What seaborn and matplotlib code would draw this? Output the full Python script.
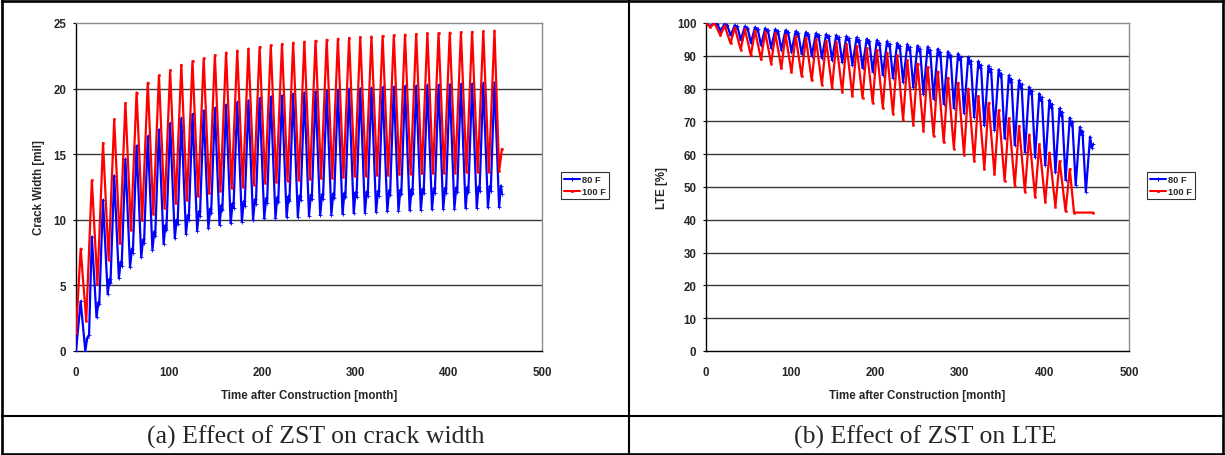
import numpy as np
import pandas as pd
import matplotlib
matplotlib.use("Agg")
import matplotlib.pyplot as plt
import seaborn as sns
from matplotlib.lines import Line2D

# ---------------- data ----------------
# months of the yearly extremes
PEAK_M = [5, 17, 29, 41, 53, 65, 77, 89, 101, 113, 125, 137, 149, 161, 173, 185, 197, 209, 221,
          233, 245, 257, 269, 281, 293, 305, 317, 329, 341, 353, 365, 377, 389, 401, 413, 425, 437, 449]
TROUGH_M = [10, 22, 34, 46, 58, 70, 82, 94, 106, 118, 130, 142, 154, 166, 178, 190, 202, 214, 226,
            238, 250, 262, 274, 286, 298, 310, 322, 334, 346, 358, 370, 382, 394, 406, 418, 430, 442, 454]
RED_TROUGH_M = [11, 23, 35, 47, 59, 71, 83, 95, 107, 119, 131, 143, 155, 167, 179, 191, 203, 215, 227,
                239, 251, 263, 275, 287, 299, 311, 323, 335, 347, 359, 371, 383, 395, 407, 419, 431, 443, 454]
BUMP_M = [12, 24, 36, 48, 60, 72, 84, 96, 108, 120, 132, 144, 156, 168, 180, 192, 204, 216, 228,
          240, 252, 264, 276, 288, 300, 312, 324, 336, 348, 360, 372, 384, 396, 408, 420, 432, 444, 456]
DIP_M = [14, 25, 37, 49, 61, 73, 85, 97, 109, 121, 133, 145, 157, 169, 181, 193, 205, 217, 229,
         241, 253, 265, 277, 289, 301, 313, 325, 337, 349, 361, 373, 385, 397, 409, 421, 433, 445, 457]
PEAK2_M = [13, 25, 37, 49, 61, 73, 85, 97, 109, 121, 133, 145, 157, 169, 181, 193, 205, 217, 229,
           241, 253, 265, 277, 289, 301, 313, 325, 337, 349, 361, 373, 385, 397, 409, 421, 433, 445, 457]

# (a) crack width [mil]
cw100_start = [0, 1.4]
cw100_end = [457, 15.4]
cw100_peak = [7.8, 13.0, 15.85, 17.65, 18.9, 19.7, 20.45, 21.0, 21.4, 21.8, 22.1, 22.3, 22.55, 22.75,
              22.9, 23.05, 23.17, 23.3, 23.4, 23.5, 23.58, 23.65, 23.73, 23.8, 23.86, 23.92, 23.97,
              24.02, 24.07, 24.12, 24.16, 24.2, 24.24, 24.27, 24.3, 24.33, 24.36, 24.42]
cw100_trough = [2.3, 5.1, 6.95, 8.2, 9.2, 9.95, 10.45, 10.87, 11.25, 11.5, 11.82, 12.02, 12.22, 12.4,
                12.52, 12.68, 12.8, 12.9, 12.98, 13.03, 13.1, 13.17, 13.22, 13.27, 13.32, 13.36, 13.4,
                13.44, 13.47, 13.5, 13.53, 13.56, 13.58, 13.6, 13.62, 13.64, 13.66, 13.7]

cw80_start = [0, 0.0]
cw80_peak = [3.8, 8.7, 11.5, 13.36, 14.63, 15.65, 16.36, 16.87, 17.35, 17.73, 18.06, 18.32, 18.52,
             18.75, 18.95, 19.08, 19.26, 19.38, 19.46, 19.59, 19.69, 19.77, 19.82, 19.87, 19.95, 20.0,
             20.05, 20.1, 20.13, 20.17, 20.2, 20.24, 20.28, 20.31, 20.34, 20.37, 20.4, 20.45]
cw80_trough = [0.0, 2.57, 4.34, 5.54, 6.38, 7.14, 7.72, 8.16, 8.59, 8.92, 9.17, 9.35, 9.6, 9.73, 9.86,
               10.0, 10.1, 10.15, 10.2, 10.25, 10.3, 10.35, 10.4, 10.44, 10.5, 10.55, 10.6, 10.64,
               10.68, 10.72, 10.75, 10.79, 10.82, 10.85, 10.88, 10.91, 10.94, 10.97]
cw80_bump = [1.0, 3.7, 5.5, 6.8, 7.8, 8.5, 9.1, 9.6, 10.0, 10.35, 10.65, 10.85, 11.1, 11.25, 11.4,
             11.55, 11.65, 11.72, 11.8, 11.85, 11.9, 11.95, 12.0, 12.05, 12.1, 12.15, 12.2, 12.24,
             12.28, 12.32, 12.36, 12.4, 12.43, 12.46, 12.5, 12.53, 12.56, 12.6]
cw80_dip = [1.2, 3.6, 5.2, 6.5, 7.5, 8.2, 8.8, 9.25, 9.65, 10.0, 10.3, 10.5, 10.75, 10.9, 11.05, 11.2,
            11.3, 11.37, 11.45, 11.5, 11.55, 11.6, 11.65, 11.7, 11.75, 11.8, 11.85, 11.89, 11.93,
            11.97, 12.01, 12.05, 12.08, 12.11, 12.15, 12.18, 12.21, 12.0]

# (b) LTE [%]
lte100_start = [0, 100.0]
lte100_trough = [98.7, 96.2, 93.8, 91.9, 90.1, 88.9, 87.6, 86.2, 85.0, 83.8, 82.5, 81.2, 80.2, 79.0,
                 77.8, 77.2, 75.7, 74.1, 72.3, 70.5, 68.9, 67.2, 65.6, 63.6, 61.7, 59.9, 57.9, 55.5,
                 53.9, 51.8, 50.4, 48.6, 46.9, 45.5, 44.0, 42.6]
lte100_peak = [100.0, 99.2, 98.6, 98.1, 97.7, 97.2, 96.8, 96.4, 96.0, 95.5, 95.0, 94.6, 94.1, 93.6,
               93.0, 92.3, 91.8, 91.0, 90.1, 88.6, 87.6, 86.5, 85.2, 83.3, 81.8, 80.0, 77.7, 75.7,
               73.4, 70.9, 68.6, 66.0, 63.0, 60.5, 57.9, 55.5]
lte100_flat_m = [435, 458]
lte100_flat = [42.2, 42.2]

lte80_start = [0, 100.0]
lte80_trough = [99.0, 97.7, 96.2, 94.8, 94.0, 93.2, 92.5, 91.9, 91.3, 90.6, 90.0, 89.4, 88.8, 88.0,
                87.2, 86.3, 85.2, 84.2, 83.2, 82.0, 80.4, 78.4, 76.9, 75.4, 74.1, 72.7, 71.3, 68.8,
                67.3, 64.8, 62.8, 60.7, 59.2, 56.7, 54.5, 52.1, 50.6, 48.6]
lte80_peak = [100.0, 99.7, 99.3, 99.0, 98.7, 98.4, 98.1, 97.8, 97.5, 97.2, 96.9, 96.6, 96.3, 96.0,
              95.6, 95.2, 94.8, 94.4, 93.9, 93.5, 93.1, 92.8, 92.1, 91.3, 90.7, 89.6, 88.3, 87.0,
              85.8, 84.0, 82.5, 80.5, 78.5, 76.5, 74.0, 71.1, 68.3, 65.3]
lte80_notch = [99.6, 99.2, 98.7, 98.3, 97.9, 97.5, 97.1, 96.8, 96.4, 96.1, 95.7, 95.4, 95.0, 94.7,
               94.2, 93.8, 93.3, 92.9, 92.3, 91.8, 91.4, 91.0, 90.3, 89.5, 88.8, 87.6, 86.3, 85.0,
               83.7, 81.9, 80.3, 78.3, 76.3, 74.2, 71.7, 68.8, 65.9, 62.0]
lte80_peak2 = [99.8, 99.4, 99.0, 98.6, 98.3, 97.9, 97.6, 97.3, 96.9, 96.6, 96.3, 96.0, 95.6, 95.3,
               94.9, 94.5, 94.0, 93.6, 93.1, 92.6, 92.2, 91.8, 91.1, 90.3, 89.6, 88.5, 87.2, 85.9,
               84.6, 82.8, 81.3, 79.3, 77.3, 75.2, 72.8, 69.9, 67.0, 63.0]

series_labels = ["80 F", "100 F"]
x_ticks = [0, 100, 200, 300, 400, 500]
cw_ticks = [0, 5, 10, 15, 20, 25]
lte_ticks = [0, 10, 20, 30, 40, 50, 60, 70, 80, 90, 100]
captions = ["(a) Effect of ZST on crack width", "(b) Effect of ZST on LTE"]


def build(pairs):
    m = np.concatenate([np.asarray(a, float) for a, _ in pairs])
    v = np.concatenate([np.asarray(b, float) for _, b in pairs])
    order = np.argsort(m, kind="stable")
    return pd.DataFrame({"month": m[order], "value": v[order]})


cw100 = build([([cw100_start[0]], [cw100_start[1]]), (PEAK_M, cw100_peak),
               (RED_TROUGH_M, cw100_trough), ([cw100_end[0]], [cw100_end[1]])])
cw80 = build([([cw80_start[0]], [cw80_start[1]]), (PEAK_M, cw80_peak), (TROUGH_M, cw80_trough),
              (BUMP_M, cw80_bump), (DIP_M, cw80_dip)])
lte100 = build([([lte100_start[0]], [lte100_start[1]]), (PEAK_M[:36], lte100_trough),
                (TROUGH_M[:36], lte100_peak), (lte100_flat_m, lte100_flat)])
lte80 = build([([lte80_start[0]], [lte80_start[1]]), (PEAK_M, lte80_trough), (TROUGH_M, lte80_peak),
               (BUMP_M, lte80_notch), (PEAK2_M, lte80_peak2)])

# ---------------- style ----------------
sns.set_theme(style="white")
plt.rcParams["font.family"] = ["Liberation Sans", "DejaVu Sans"]

BLUE = "#0000FF"
RED = "#FF0000"
W, H = 1225, 456
fig = plt.figure(figsize=(W / 100, H / 100), dpi=100)
fig.patch.set_facecolor("white")


def px_axes(x0, x1, y0, y1):
    return fig.add_axes([x0 / W, 1 - y1 / H, (x1 - x0) / W, (y1 - y0) / H])


axL = px_axes(76, 542, 24, 352)
axR = px_axes(706, 1129, 24, 352)

tick_fs = 8.3


def style_axes(ax, yticks, ylabel):
    ax.set_xlim(0, 500)
    ax.set_ylim(yticks[0], yticks[-1])
    ax.set_xticks(x_ticks)
    ax.set_yticks(yticks)
    ax.set_xticklabels([str(t) for t in x_ticks], fontsize=tick_fs, fontweight="bold")
    ax.set_yticklabels([str(t) for t in yticks], fontsize=tick_fs, fontweight="bold")
    ax.tick_params(axis="x", direction="in", length=4, width=0.8, color="black", pad=11, top=False)
    ax.tick_params(axis="y", direction="out", length=2, width=0.8, color="black", pad=5, right=False, left=True)
    for y in yticks[1:-1]:
        ax.axhline(y, color="#3a3a3a", lw=1.0, zorder=0.5)
    for s in ["left", "bottom"]:
        ax.spines[s].set_color("black")
        ax.spines[s].set_linewidth(1.0)
    for s in ["top", "right"]:
        ax.spines[s].set_color("#8c8c8c")
        ax.spines[s].set_linewidth(1.0)
    ax.set_xlabel("Time after Construction [month]", fontsize=tick_fs, fontweight="bold", labelpad=8)
    ax.set_ylabel(ylabel, fontsize=tick_fs, fontweight="bold", labelpad=6)
    ax.set_facecolor("white")


def draw(ax, df, color, marker, ms, mew):
    sns.lineplot(data=df, x="month", y="value", ax=ax, color=color, lw=1.6, marker=marker,
                 markersize=ms, markeredgewidth=mew, markeredgecolor=color, markerfacecolor=color,
                 estimator=None, sort=False, legend=False, zorder=3)


draw(axL, cw80, BLUE, "+", 2.2, 0.6)
draw(axL, cw100, RED, "s", 1.4, 0.3)
draw(axR, lte80, BLUE, "+", 2.2, 0.6)
draw(axR, lte100, RED, "s", 1.4, 0.3)

style_axes(axL, cw_ticks, "Crack Width [mil]")
style_axes(axR, lte_ticks, "LTE [%]")

handles = [Line2D([], [], color=BLUE, lw=1.5, marker="+", ms=3, mew=0.8),
           Line2D([], [], color=RED, lw=1.5, marker="s", ms=2, mew=0.5)]
for anchor in [(561 / W, 1 - 173 / H), (1147 / W, 1 - 173 / H)]:
    leg = fig.legend(handles, series_labels, loc="upper left", bbox_to_anchor=anchor,
                     bbox_transform=fig.transFigure, frameon=True, fancybox=False, shadow=False,
                     prop={"size": 6.7, "weight": "bold"}, handlelength=1.7, handletextpad=0.25,
                     borderpad=0.3, labelspacing=0.35, borderaxespad=0)
    leg.get_frame().set_edgecolor("black")
    leg.get_frame().set_linewidth(0.8)

# table frame and captions
def fline(x0, y0, x1, y1, lw):
    fig.add_artist(Line2D([x0 / W, x1 / W], [1 - y0 / H, 1 - y1 / H], transform=fig.transFigure,
                          color="black", lw=lw, solid_capstyle="projecting"))

fline(1.5, 1.5, 1222.5, 1.5, 1.9)
fline(1.5, 454.5, 1222.5, 454.5, 1.9)
fline(1.5, 1.5, 1.5, 454.5, 1.9)
fline(1222.5, 1.5, 1222.5, 454.5, 1.9)
fline(629, 1.5, 629, 454.5, 1.5)
fline(1.5, 417, 1222.5, 417, 1.5)

for cx, txt in [((2 + 629) / 2, captions[0]), ((629 + 1222) / 2, captions[1])]:
    fig.text(cx / W, 1 - 437 / H, txt, ha="center", va="center", fontsize=18.5,
             family=["Liberation Serif", "DejaVu Serif"])

fig.savefig("out.png", dpi=100, facecolor="white")
